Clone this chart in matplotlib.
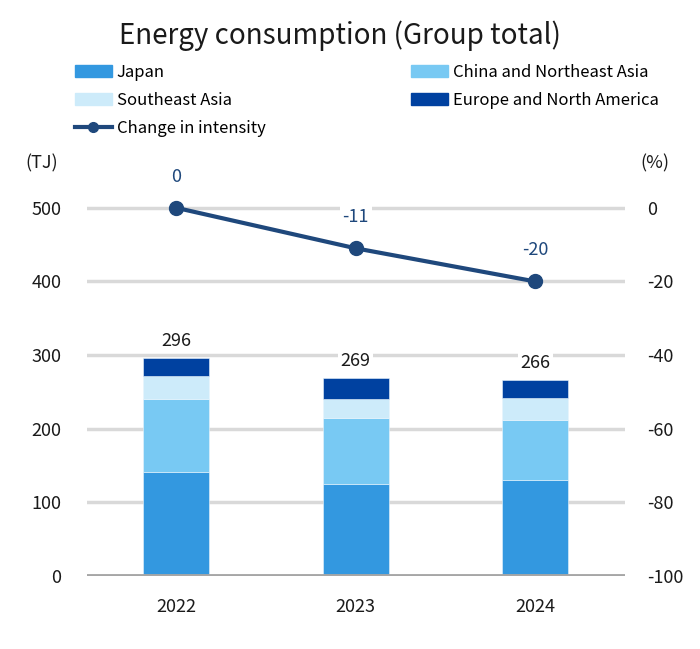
import numpy as np
import matplotlib
matplotlib.use('Agg')
import matplotlib.pyplot as plt
from matplotlib.lines import Line2D
from matplotlib.patches import Patch

plt.rcParams['font.family'] = ['Noto Sans CJK JP', 'DejaVu Sans']
plt.rcParams['axes.unicode_minus'] = False

years = ['2022', '2023', '2024']
japan = [141, 125, 130]
china_ne_asia = [100, 89, 82]
se_asia = [31, 27, 30]
europe_na = [24, 28, 24]
totals = [296, 269, 266]
intensity = [0, -11, -20]

c_japan = '#3398E0'
c_china = '#78C9F3'
c_se = '#CDEBFA'
c_eu = '#0041A0'
c_line = '#1F487C'

fig = plt.figure(figsize=(7, 6.49), dpi=100)
ax = fig.add_axes([0.1236, 0.1125, 0.7693, 0.624])
ax2 = ax.twinx()

x = np.arange(len(years))
w = 0.37
bottom = np.zeros(len(years))
for vals, col, lab in [(japan, c_japan, 'Japan'),
                       (china_ne_asia, c_china, 'China and Northeast Asia'),
                       (se_asia, c_se, 'Southeast Asia'),
                       (europe_na, c_eu, 'Europe and North America')]:
    ax.bar(x, vals, w, bottom=bottom, color=col, edgecolor='#e8f4fc', linewidth=0.4, zorder=3)
    bottom += np.array(vals)

for i, t in enumerate(totals):
    ax.annotate(str(t), (x[i], bottom[i]), xytext=(0, 12), textcoords='offset points',
                ha='center', va='center', fontsize=13, color='#1a1a1a', zorder=5,
                bbox=dict(boxstyle='square,pad=0.15', fc='white', ec='none'))

ax.set_xlim(-0.5, 2.5)
ax.set_ylim(0, 550)
ax.set_yticks([0, 100, 200, 300, 400, 500])
ax.set_xticks(x)
ax.set_xticklabels(years)
for yv in [100, 200, 300, 400, 500]:
    ax.axhline(yv, color='#D9D9D9', linewidth=2.5, zorder=1)
ax.axhline(0, color='#A6A6A6', linewidth=3.5, zorder=4)
for s in ax.spines.values():
    s.set_visible(False)
for s in ax2.spines.values():
    s.set_visible(False)
ax.tick_params(axis='y', length=0, pad=18, labelsize=13, colors='#1a1a1a')
ax.tick_params(axis='x', length=0, pad=16, labelsize=13, colors='#1a1a1a')

ax2.plot(x, intensity, color=c_line, linewidth=3, marker='o', markersize=10, zorder=6)
ax2.set_ylim(-100, 10)
ax2.set_yticks([-100, -80, -60, -40, -20, 0])
ax2.tick_params(axis='y', length=0, pad=16, labelsize=13, colors='#1a1a1a')
for i, v in enumerate(intensity):
    ax2.annotate(str(v), (x[i], v), xytext=(0, 22.5), textcoords='offset points',
                 ha='center', va='center', fontsize=13, color=c_line, zorder=7,
                 bbox=dict(boxstyle='square,pad=0.15', fc='white', ec='none'))
ax2.set_zorder(ax.get_zorder() + 1)
ax2.patch.set_visible(False)

fig.text(0.06, 0.749, '(TJ)', ha='center', va='center', fontsize=13, color='#1a1a1a')
fig.text(0.936, 0.749, '(%)', ha='center', va='center', fontsize=13, color='#1a1a1a')

fig.text(0.486, 0.945, 'Energy consumption (Group total)', ha='center', va='center',
         fontsize=20, color='#1a1a1a')

handles = [Patch(color=c_japan), Patch(color=c_se),
           Line2D([], [], color=c_line, linewidth=3, marker='o', markersize=7),
           Patch(color=c_china), Patch(color=c_eu)]
labels = ['Japan', 'Southeast Asia', 'Change in intensity',
          'China and Northeast Asia', 'Europe and North America']
fig.legend(handles, labels, ncol=2, loc='upper left', bbox_to_anchor=(0.107, 0.902),
           frameon=False, fontsize=12, handlelength=2.2, handleheight=0.7,
           handletextpad=0.3, columnspacing=8.75, labelspacing=0.68, borderpad=0,
           borderaxespad=0)

fig.savefig('out.png', dpi=100, facecolor='white')
